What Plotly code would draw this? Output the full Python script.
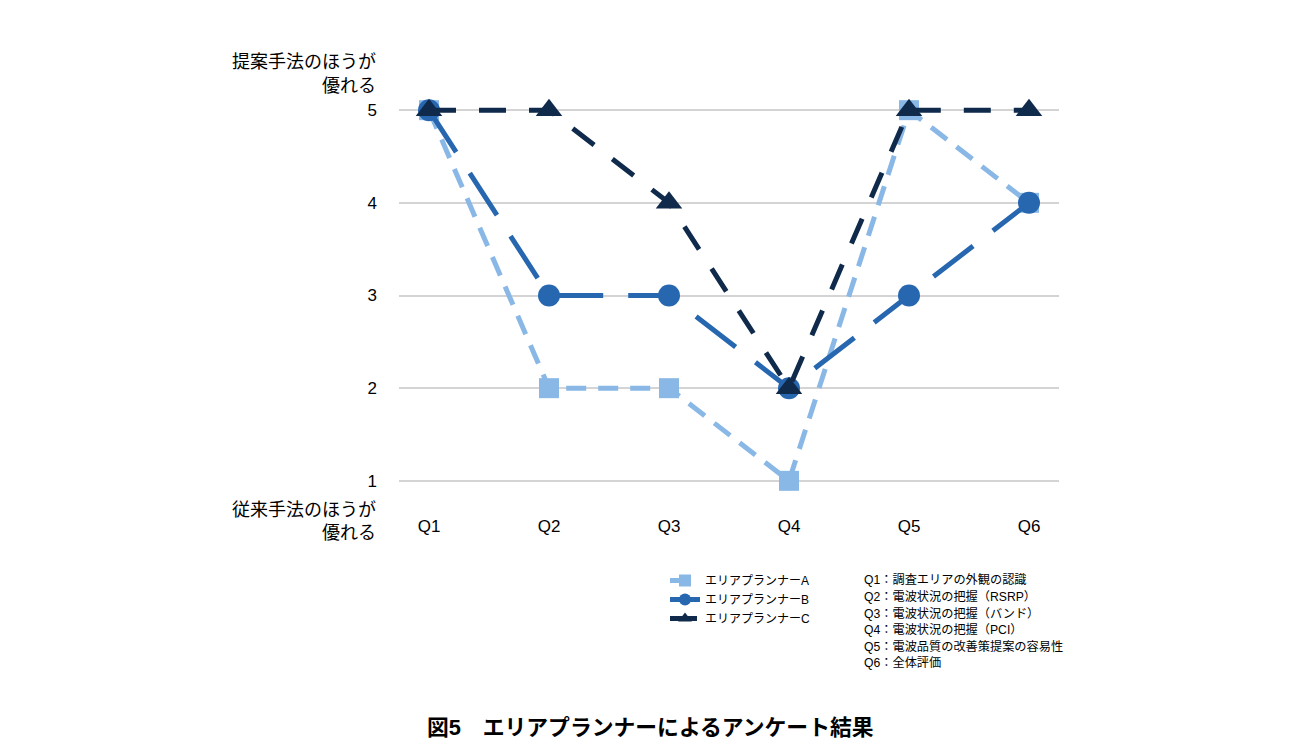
import plotly.graph_objects as go

categories = ["Q1", "Q2", "Q3", "Q4", "Q5", "Q6"]
series_names = ["エリアプランナーA", "エリアプランナーB", "エリアプランナーC"]
values_a = [5, 2, 2, 1, 5, 4]
values_b = [5, 3, 3, 2, 3, 4]
values_c = [5, 5, 4, 2, 5, 5]
y_ticks = [1, 2, 3, 4, 5]
notes = [
    "Q1：調査エリアの外観の認識",
    "Q2：電波状況の把握（RSRP）",
    "Q3：電波状況の把握（バンド）",
    "Q4：電波状況の把握（PCI）",
    "Q5：電波品質の改善策提案の容易性",
    "Q6：全体評価",
]
top_label = ["提案手法のほうが", "優れる"]
bottom_label = ["従来手法のほうが", "優れる"]
title_text = "<b>図5　エリアプランナーによるアンケート結果</b>"

JP = "Liberation Sans, Noto Sans CJK JP, sans-serif"

# plot area in page pixels (page has an 8px body margin)
L, T, W, H = 399, 87, 660, 417
OFF = 8


def px(x):
    return (x - L) / W


def py(y):
    return (T + H - y) / H


styles = [
    dict(color="#8ab8e6", dash="20px,12px", symbol="square", size=20),
    dict(color="#2767b0", dash="50px,25px", symbol="circle", size=22),
    dict(color="#0f2a4b", dash="27px,23px", symbol="triangle-up", size=23),
]

fig = go.Figure()
for name, vals, st in zip(series_names, [values_a, values_b, values_c], styles):
    fig.add_trace(go.Scatter(
        x=categories, y=vals, name=name, mode="lines+markers",
        line=dict(color=st["color"], width=5, dash=st["dash"]),
        marker=dict(color=st["color"], symbol=st["symbol"], size=st["size"]),
        cliponaxis=False,
    ))

for lines, ys in [(top_label, [62, 86]), (bottom_label, [510, 533])]:
    for t, yy in zip(lines, ys):
        fig.add_annotation(xref="paper", yref="paper", x=px(378), y=py(yy), text=t,
                           showarrow=False, xanchor="right", yanchor="middle",
                           font=dict(family=JP, size=18, color="#000"))

note_ys = [580, 596.5, 613, 629.5, 646, 662.5]
for t, yy in zip(notes, note_ys):
    fig.add_annotation(xref="paper", yref="paper", x=px(862), y=py(yy), text=t,
                       showarrow=False, xanchor="left", yanchor="middle",
                       font=dict(family=JP, size=12.2, color="#000"))

fig.add_annotation(xref="paper", yref="paper", x=px(650), y=py(727),
                   text=title_text, showarrow=False, xanchor="center", yanchor="middle",
                   font=dict(family=JP, size=21.8, color="#000"))

fig.update_layout(
    width=1300, height=754,
    margin=dict(l=L - OFF, r=1300 - (L - OFF) - W, t=T - OFF, b=754 - (T - OFF) - H),
    paper_bgcolor="white", plot_bgcolor="white",
    font=dict(family=JP, color="#000"),
    showlegend=True,
    legend=dict(x=px(665), y=py(566), xanchor="left", yanchor="top",
                font=dict(family=JP, size=12, color="#000"), bgcolor="rgba(0,0,0,0)",
                itemsizing="constant", tracegroupgap=0),
    xaxis=dict(type="category", range=[-0.25, 5.25], showgrid=False, zeroline=False,
               showline=False, ticks="", tickfont=dict(size=17, family=JP),
               ticklabelstandoff=10),
    yaxis=dict(range=[0.75, 5.25], tickvals=y_ticks, showgrid=True, gridcolor="#d4d4d4",
               gridwidth=2, zeroline=False, showline=False, ticks="",
               tickfont=dict(size=17, family=JP), ticklabelstandoff=21),
)

fig.write_html("out.html")
